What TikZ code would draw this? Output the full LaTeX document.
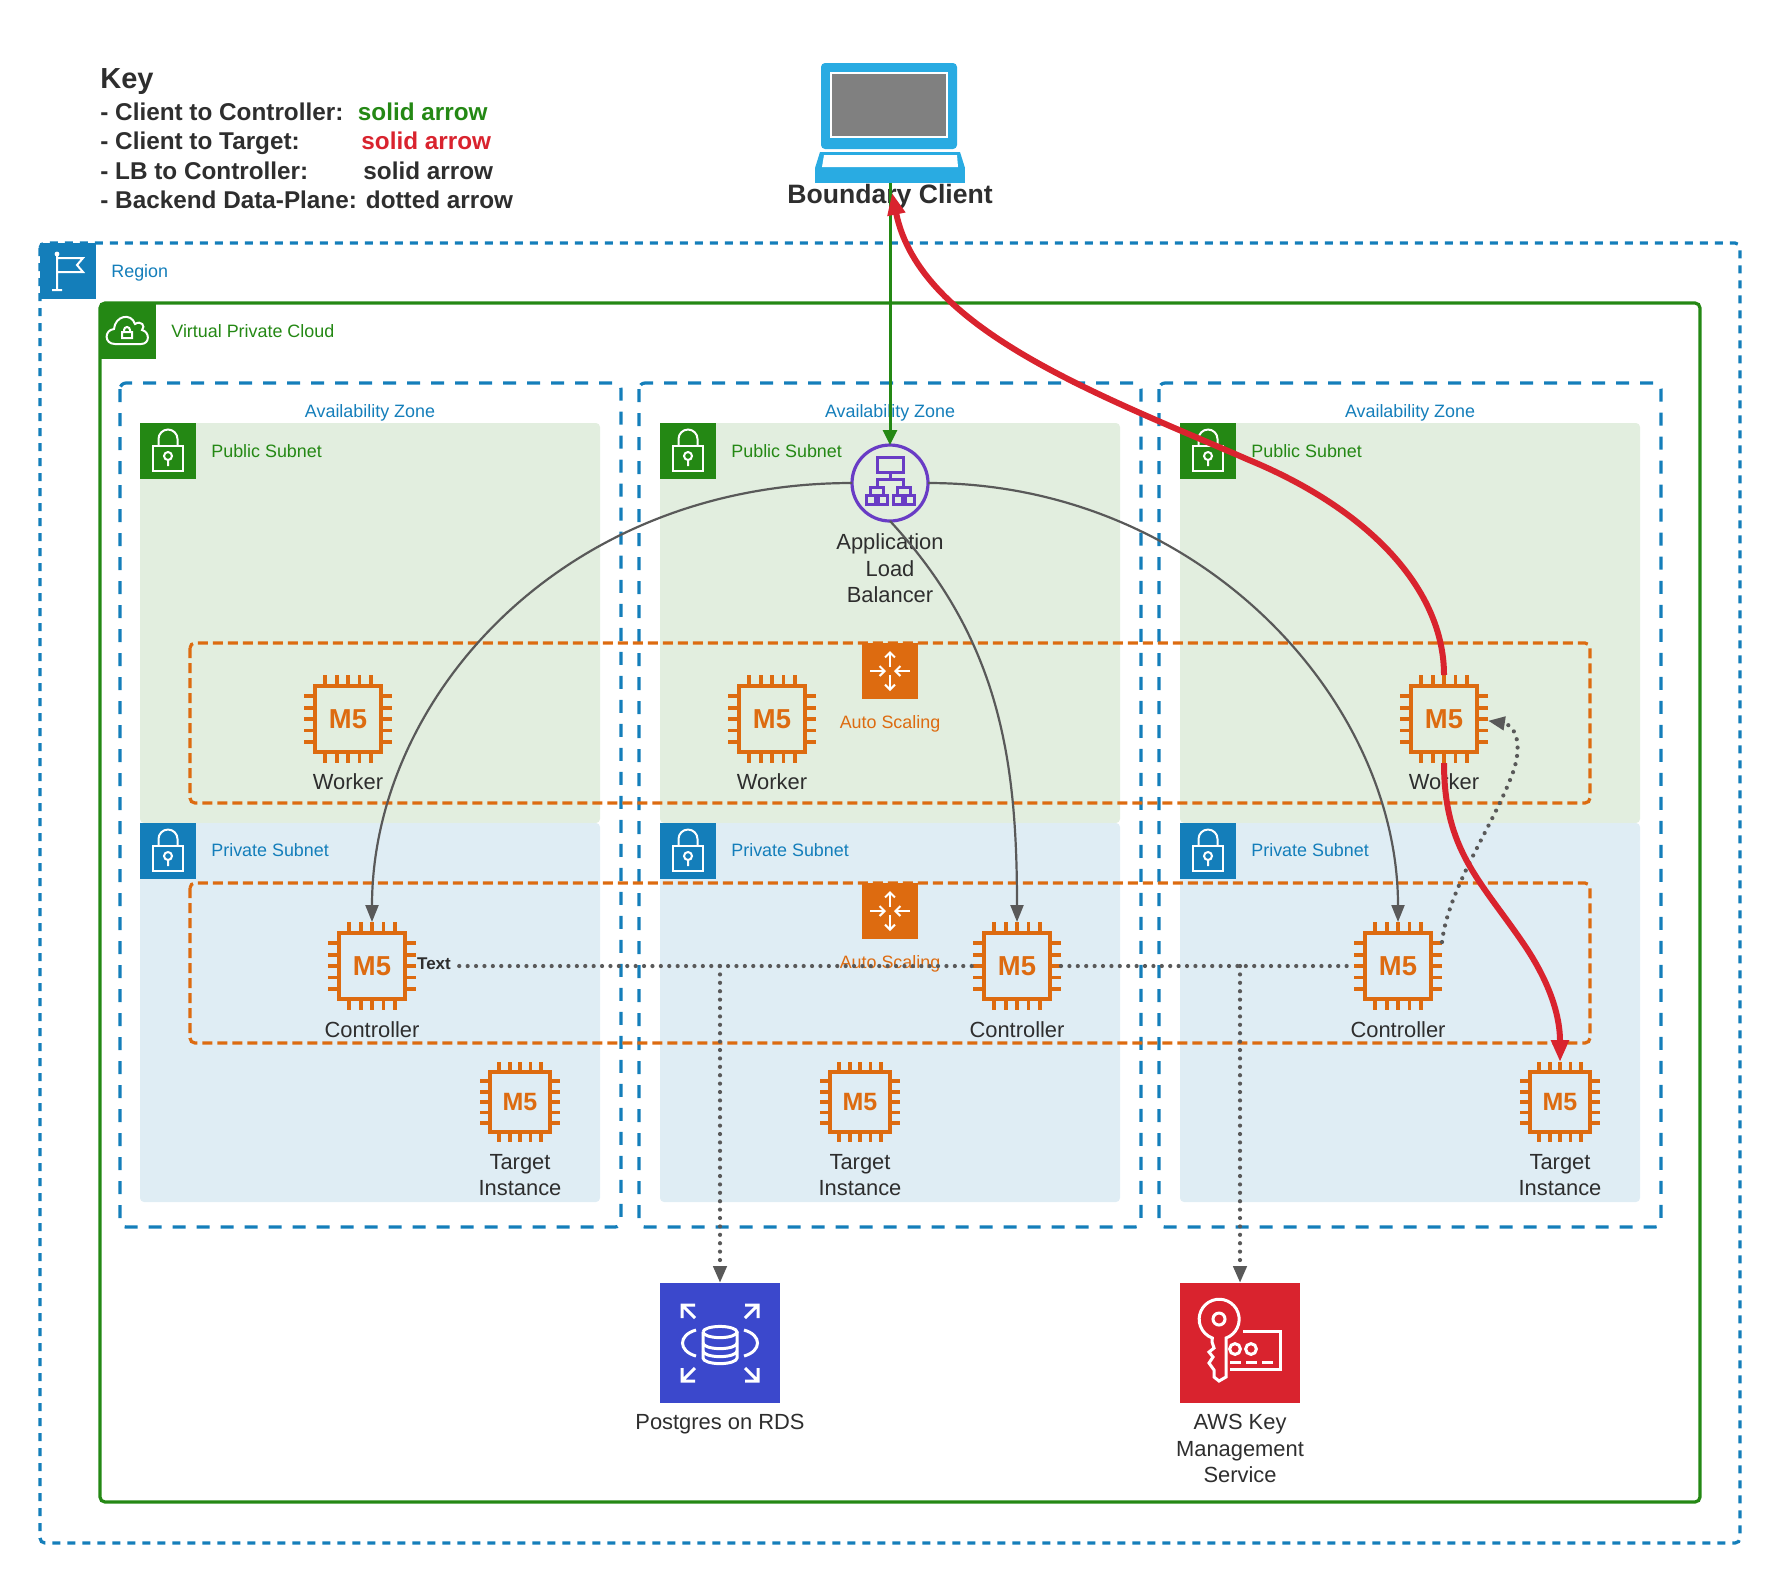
\documentclass[tikz,border=0pt]{standalone}
\usepackage{fontspec}
\setmainfont{Liberation Sans}
\usetikzlibrary{arrows.meta}
\definecolor{regionblue}{HTML}{147EBA}
\definecolor{vpcgreen}{HTML}{248814}
\definecolor{scaleorange}{HTML}{DD6B10}
\definecolor{clientred}{HTML}{D9232E}
\definecolor{rdsblue}{HTML}{3B48CC}
\definecolor{albpurple}{HTML}{693CC5}
\definecolor{laptopblue}{HTML}{29ABE2}
\definecolor{pubfill}{HTML}{E2EEDF}
\definecolor{privfill}{HTML}{DFEDF4}
\definecolor{inkgrey}{HTML}{2E2E2E}
\definecolor{wiregrey}{HTML}{595959}

\begin{document}
\begin{tikzpicture}[
  x=0.5pt,
  y=-0.5pt,
  regionbox/.style={draw=regionblue, line width=1.6pt, rounded corners=2.5pt, dash pattern=on 4pt off 3.5pt},
  vpcbox/.style={draw=vpcgreen, line width=1.6pt, rounded corners=2.5pt},
  azbox/.style={draw=regionblue, line width=1.6pt, rounded corners=3pt, dash pattern=on 6.5pt off 5.5pt},
  scalebox/.style={draw=scaleorange, line width=1.6pt, rounded corners=2.5pt, dash pattern=on 5pt off 2.5pt},
  pubnet/.style={fill=pubfill, rounded corners=2pt},
  privnet/.style={fill=privfill, rounded corners=2pt},
  tagbox/.style={anchor=north west, minimum size=28pt, inner sep=0pt, outer sep=0pt},
  iconline/.style={draw=white, line width=1pt},
  smalltxt/.style={font=\fontsize{8.95}{11}\selectfont, inner sep=0pt},
  bigtxt/.style={font=\fontsize{10.95}{13.4}\selectfont, text=inkgrey, align=center, inner sep=0pt},
  keytxt/.style={font=\fontsize{12.15}{14}\selectfont\bfseries, anchor=base west, inner sep=0pt},
  chipbig/.style={draw=scaleorange, line width=2pt, minimum size=33pt, inner sep=0pt, outer sep=0pt, text=scaleorange, font=\fontsize{13.7}{14}\selectfont\bfseries},
  chipsmall/.style={draw=scaleorange, line width=2pt, minimum size=30pt, inner sep=0pt, outer sep=0pt, text=scaleorange, font=\fontsize{12.5}{13}\selectfont\bfseries},
  chippin/.style={draw=scaleorange, line width=1.9pt},
  lbwire/.style={draw=wiregrey, line width=1.1pt, -{Triangle[length=8.5pt,width=6.5pt]}},
  greenwire/.style={draw=vpcgreen, line width=1.5pt, -{Triangle[length=7.5pt,width=7pt]}},
  redwire/.style={draw=clientred, line width=3pt, -{Triangle[length=11pt,width=8.5pt]}},
  dotwire/.style={draw=wiregrey, line width=2.1pt, line cap=round, dash pattern=on 0pt off 4.2pt},
  dottip/.style={dotwire, -{Triangle[length=8.5pt,width=6.5pt]}}
]
\useasboundingbox (0,0) rectangle (1780,1581.5);

% key
\node[keytxt, font=\fontsize{14.5}{16}\selectfont\bfseries, text=inkgrey] (keyhead) at (100,88.5) {Key};
\node[keytxt, text=inkgrey] (keyone) at (100,120) {- Client to Controller:};
\node[keytxt, text=vpcgreen] (keyonev) at (357.5,120) {solid arrow};
\node[keytxt, text=inkgrey] (keytwo) at (100,149.5) {- Client to Target:};
\node[keytxt, text=clientred] (keytwov) at (361,149.5) {solid arrow};
\node[keytxt, text=inkgrey] (keythree) at (100,179) {- LB to Controller:};
\node[keytxt, text=inkgrey] (keythreev) at (363,179) {solid arrow};
\node[keytxt, text=inkgrey] (keyfour) at (100,208.5) {- Backend Data-Plane: dotted arrow};

% laptop
\fill[laptopblue, rounded corners=2pt] (821,63) rectangle (957,149);
\fill[white] (830,72) rectangle (948,138);
\fill[gray] (832,74) rectangle (946,136);
\fill[laptopblue] (820,152) -- (960,152) -- (965,168) -- (815,168) -- cycle;
\fill[white] (824,155) -- (957,155) -- (958,167) -- (822,167) -- cycle;
\node[fill=laptopblue, minimum width=75pt, minimum height=7.5pt, inner sep=0pt, outer sep=0pt] (laptop) at (890,175.5) {};
\node[font=\fontsize{13.3}{15}\selectfont\bfseries, text=inkgrey, inner sep=0pt] (clientname) at (890,197) {Boundary Client};

% region and vpc
\node[tagbox, fill=regionblue] (regiontag) at (40,243) {};
\draw[regionbox] (40,243) rectangle (1740,1543);
\node[smalltxt, anchor=west, text=regionblue] (regionname) at (111,273) {Region};
\draw[vpcbox] (100,303) rectangle (1700,1502);
\node[tagbox, fill=vpcgreen] (vpctag) at (100,303) {};
\node[smalltxt, anchor=west, text=vpcgreen] (vpcname) at (171,331) {Virtual Private Cloud};
\begin{scope}[shift={(regiontag.north west)}]
  \draw[iconline] (17,12) -- (17,47) (12,47) -- (22,47) (17,15) -- (43,15) -- (37,22) -- (43,29) -- (17,29);
  \fill[white] (17,11) circle (1.2pt);
\end{scope}
\begin{scope}[shift={(vpctag.north west)}]
  \draw[iconline] (15,41) .. controls (4,41) and (4,27) .. (14,26) .. controls (15,13) and (31,9) .. (35,21) .. controls (41,17) and (46,23) .. (42,27) .. controls (50,29) and (50,41) .. (41,41) -- cycle;
  \draw[iconline] (22,29) rectangle (32,35) (24,29) -- (24,27) arc[start angle=180,end angle=0,radius=1.5pt] -- (30,29);
\end{scope}

% availability zones
\draw[azbox] (120,383) rectangle (621,1227);
\draw[azbox] (639,383) rectangle (1141,1227);
\draw[azbox] (1159,383) rectangle (1661,1227);
\node[smalltxt, text=regionblue] (azAname) at (370,413) {Availability Zone};
\node[smalltxt, text=regionblue] (azBname) at (890,413) {Availability Zone};
\node[smalltxt, text=regionblue] (azCname) at (1410,413) {Availability Zone};

% subnets
\fill[pubnet] (140,423) rectangle (600,823);
\fill[pubnet] (660,423) rectangle (1120,823);
\fill[pubnet] (1180,423) rectangle (1640,823);
\fill[privnet] (140,823) rectangle (600,1202);
\fill[privnet] (660,823) rectangle (1120,1202);
\fill[privnet] (1180,823) rectangle (1640,1202);
\node[tagbox, fill=vpcgreen] (pubAtag) at (140,423) {};
\node[tagbox, fill=vpcgreen] (pubBtag) at (660,423) {};
\node[tagbox, fill=vpcgreen] (pubCtag) at (1180,423) {};
\node[tagbox, fill=regionblue] (privAtag) at (140,823) {};
\node[tagbox, fill=regionblue] (privBtag) at (660,823) {};
\node[tagbox, fill=regionblue] (privCtag) at (1180,823) {};
\foreach \tagname in {pubAtag,pubBtag,pubCtag,privAtag,privBtag,privCtag} {
  \begin{scope}[shift={(\tagname.north west)}]
    \draw[iconline] (13,23) rectangle (43,48);
    \draw[iconline] (18.5,23) -- (18.5,16) arc[start angle=180,end angle=0,radius=4.75pt] -- (37.5,23);
    \draw[iconline] (28,33) circle (2pt) (28,37) -- (28,43);
  \end{scope}
}
\node[smalltxt, anchor=west, text=vpcgreen] (pubAname) at (211,451) {Public Subnet};
\node[smalltxt, anchor=west, text=vpcgreen] (pubBname) at (731,451) {Public Subnet};
\node[smalltxt, anchor=west, text=vpcgreen] (pubCname) at (1251,451) {Public Subnet};
\node[smalltxt, anchor=west, text=regionblue] (privAname) at (211,850) {Private Subnet};
\node[smalltxt, anchor=west, text=regionblue] (privBname) at (731,850) {Private Subnet};
\node[smalltxt, anchor=west, text=regionblue] (privCname) at (1251,850) {Private Subnet};

% auto scaling
\node[tagbox, fill=scaleorange] (scaleAtag) at (862,643) {};
\node[tagbox, fill=scaleorange] (scaleBtag) at (862,883) {};
\draw[scalebox] (190,643) rectangle (1590,803);
\draw[scalebox] (190,883) rectangle (1590,1043);
\foreach \tagname in {scaleAtag,scaleBtag} {
  \begin{scope}[shift={(\tagname.north west)}, iconline/.append style={-{Straight Barb[length=2.5pt,width=5pt]}}]
    \draw[iconline] (28,24) -- (28,8);
    \draw[iconline] (28,32) -- (28,48);
    \draw[iconline] (8,28) -- (24,28);
    \draw[iconline] (48,28) -- (32,28);
  \end{scope}
}
\node[smalltxt, text=scaleorange] (scaleAname) at (890,724) {Auto Scaling};
\node[smalltxt, text=scaleorange] (scaleBname) at (890,963.5) {Auto Scaling};

% load balancer
\node[circle, draw=albpurple, line width=1.6pt, minimum size=38pt, inner sep=0pt, outer sep=0pt] (alb) at (890,483) {};
\draw[draw=albpurple, line width=1.5pt] (877,457) rectangle (903,472) (890,472) -- (890,479) (877,487) -- (877,479) -- (903,479) -- (903,487)
  (870,495) -- (870,487) -- (883,487) -- (883,495) (897,495) -- (897,487) -- (910,487) -- (910,495)
  (866,495) rectangle (875,504) (878,495) rectangle (887,504) (893,495) rectangle (902,504) (905,495) rectangle (914,504);
\node[bigtxt, below=0pt] (albname) at (890,533) {Application\\Load\\Balancer};

% instances
\node[chipbig] (workerA) at (348,719) {M5};
\node[chipbig] (workerB) at (772,719) {M5};
\node[chipbig] (workerC) at (1444,719) {M5};
\node[chipbig] (ctrlA) at (372,966) {M5};
\node[chipbig] (ctrlB) at (1017,966) {M5};
\node[chipbig] (ctrlC) at (1398,966) {M5};
\node[chipsmall] (targetA) at (520,1102) {M5};
\node[chipsmall] (targetB) at (860,1102) {M5};
\node[chipsmall] (targetC) at (1560,1102) {M5};
\foreach \chipname/\pinstep/\pinlen in {workerA/5.7/5.5,workerB/5.7/5.5,workerC/5.7/5.5,ctrlA/5.7/5.5,ctrlB/5.7/5.5,ctrlC/5.7/5.5,targetA/5.2/5,targetB/5.2/5,targetC/5.2/5} {
  \foreach \k in {-2,...,2} {
    \draw[chippin] ([xshift=\k*\pinstep pt]\chipname.north) -- ++(0pt,\pinlen pt);
    \draw[chippin] ([xshift=\k*\pinstep pt]\chipname.south) -- ++(0pt,-\pinlen pt);
    \draw[chippin] ([yshift=\k*\pinstep pt]\chipname.west) -- ++(-\pinlen pt,0pt);
    \draw[chippin] ([yshift=\k*\pinstep pt]\chipname.east) -- ++(\pinlen pt,0pt);
  }
}
\node[bigtxt] (workerAname) at (348,782) {Worker};
\node[bigtxt] (workerBname) at (772,782) {Worker};
\node[bigtxt] (workerCname) at (1444,782) {Worker};
\node[bigtxt] (ctrlAname) at (372,1030) {Controller};
\node[bigtxt] (ctrlBname) at (1017,1030) {Controller};
\node[bigtxt] (ctrlCname) at (1398,1030) {Controller};
\node[bigtxt] (targetAname) at (520,1175) {Target\\Instance};
\node[bigtxt] (targetBname) at (860,1175) {Target\\Instance};
\node[bigtxt] (targetCname) at (1560,1175) {Target\\Instance};

% services
\node[tagbox, fill=rdsblue, minimum size=60pt] (rds) at (660,1283) {};
\node[tagbox, fill=clientred, minimum size=60pt] (kms) at (1180,1283) {};
\node[bigtxt] (rdsname) at (720,1424) {Postgres on RDS};
\node[bigtxt] (kmsname) at (1240,1448.5) {AWS Key\\Management\\Service};
\begin{scope}[iconline/.append style={line width=1.5pt}]
  \draw[iconline] (703,1332) arc[start angle=180,end angle=-180,x radius=8.5pt,y radius=2.8pt];
  \draw[iconline] (703,1332) -- (703,1358) arc[start angle=180,end angle=360,x radius=8.5pt,y radius=2.8pt] -- (737,1332);
  \draw[iconline] (703,1343) arc[start angle=180,end angle=360,x radius=8.5pt,y radius=2.8pt];
  \draw[iconline] (703,1351) arc[start angle=180,end angle=360,x radius=8.5pt,y radius=2.8pt];
  \draw[iconline] (696,1330) .. controls (678,1335) and (678,1351) .. (696,1356);
  \draw[iconline] (744,1330) .. controls (762,1335) and (762,1351) .. (744,1356);
  \draw[iconline] (695,1305) -- (682,1305) -- (682,1318) (682,1305) -- (695,1318);
  \draw[iconline] (745,1305) -- (758,1305) -- (758,1318) (758,1305) -- (745,1318);
  \draw[iconline] (695,1381) -- (682,1381) -- (682,1368) (682,1381) -- (695,1368);
  \draw[iconline] (745,1381) -- (758,1381) -- (758,1368) (758,1381) -- (745,1368);
  \draw[iconline] (1226,1338) arc[start angle=-70,end angle=250,radius=10pt] -- (1212,1342) -- (1214,1348) -- (1209,1352) -- (1213,1357) -- (1209,1363) -- (1214,1370) -- (1214,1377) -- (1219,1381) -- (1226,1377) -- cycle;
  \draw[iconline] (1219,1319) circle (3pt);
  \draw[iconline] (1243,1331) -- (1280,1331) -- (1280,1369) -- (1230,1369);
  \draw[iconline] (1235,1349) circle (2.7pt) (1251,1349) circle (2.7pt);
  \draw[iconline] (1230,1362) -- (1241,1362) (1246,1362) -- (1257,1362) (1262,1362) -- (1273,1362);
\end{scope}

% connectors
\draw[greenwire] (laptop.south) -- (alb.north);
\draw[lbwire, shorten >=5.5pt] (alb.west) .. controls (560,483) and (372,700) .. (ctrlA.north);
\draw[lbwire, shorten >=5.5pt] (alb.south) .. controls (1000,640) and (1017,760) .. (ctrlB.north);
\draw[lbwire, shorten >=5.5pt] (alb.east) .. controls (1200,483) and (1398,700) .. (ctrlC.north);
\node[font=\fontsize{8.5}{10}\selectfont\bfseries, text=inkgrey, inner sep=0pt] (midtext) at (434,964) {Text};
\draw[dotwire, shorten >=5.5pt] (midtext.east |- ctrlB.west) ++(4pt,0pt) -- (ctrlB.west);
\draw[dotwire, shorten <=5.5pt, shorten >=5.5pt] (ctrlB.east) -- (ctrlC.west);
\draw[dottip] (rds.north |- ctrlB.west) -- (rds.north);
\draw[dottip] (kms.north |- ctrlB.west) -- (kms.north);
\draw[dottip, shorten >=5.5pt] ([xshift=5.5pt,yshift=12pt]ctrlC.east) .. controls (1448,890) and (1490,830) .. (1510,780) .. controls (1525,745) and (1515,725) .. (workerC.east);
\draw[redwire, shorten >=5pt] (workerC.north) ++(0pt,5.5pt) .. controls (1444,590) and (1370,510) .. (1249,460) .. controls (1100,395) and (920,330) .. (laptop.south);
\draw[redwire, shorten >=5pt] (workerC.south) ++(0pt,-5.5pt) .. controls (1444,850) and (1480,880) .. (1523,943) .. controls (1545,975) and (1560,1010) .. (targetC.north);
\end{tikzpicture}
\end{document}
